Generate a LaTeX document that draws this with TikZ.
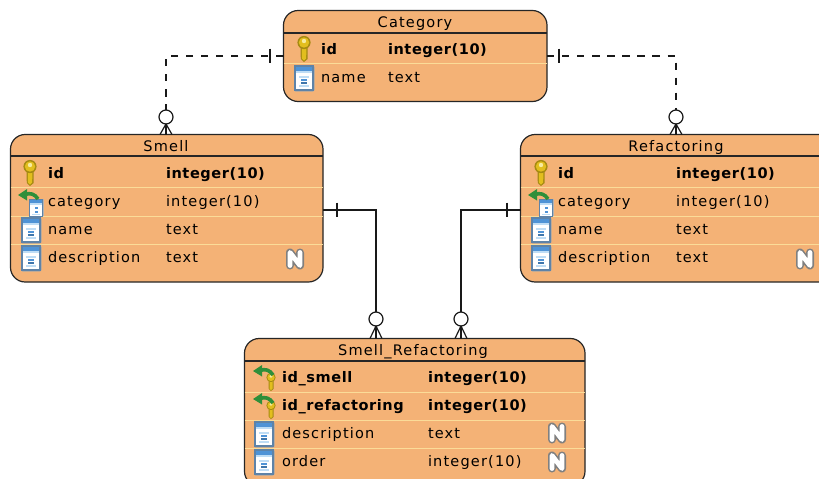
\documentclass[tikz,border=0pt]{standalone}
\usepackage{fontspec}
\setmainfont[LetterSpace=8,BoldFeatures={LetterSpace=4}]{DejaVu Sans}
\usetikzlibrary{fit}
\definecolor{tblfill}{HTML}{F4B276}
\definecolor{rowsep}{HTML}{FBDC98}
\definecolor{keygold}{HTML}{E2BE1E}
\definecolor{keydark}{HTML}{A58A12}
\definecolor{keylight}{HTML}{F7EBA0}
\definecolor{icoblue}{HTML}{4F93D6}
\definecolor{icodark}{HTML}{5E83A8}
\definecolor{icolight}{HTML}{BFDDF5}
\definecolor{fkgreen}{HTML}{2F8F3A}
\definecolor{ngray}{HTML}{808080}
\tikzset{
  tablebox/.style={draw=black!85,fill=tblfill,line width=.9pt,rounded corners=11pt,inner sep=0pt,outer sep=0pt},
  headline/.style={draw=black!85,line width=.8pt},
  rowline/.style={draw=rowsep,line width=.7pt},
  celltext/.style={anchor=base west,inner sep=0pt,outer sep=0pt,font=\fontsize{10.9pt}{13pt}\selectfont,text=black},
  celltitle/.style={anchor=base,inner sep=0pt,outer sep=0pt,font=\fontsize{10.9pt}{13pt}\selectfont,text=black},
  conn/.style={draw=black!90,line width=.9pt},
  connd/.style={conn,dash pattern=on 5.5pt off 5.8pt},
  ringend/.style={circle,draw=black!90,fill=white,line width=.9pt,minimum size=10.5pt,inner sep=0pt,outer sep=0pt},
}
\newcount\txtn
\newcommand{\tbl}[5]{%
  \coordinate (#1-a) at (#2,#3);\coordinate (#1-b) at (#4,#5);
  \node[tablebox,fit=(#1-a)(#1-b)] (#1) {};}
\newcommand{\hl}[3][headline]{\draw[#1] (#2.west |- 0,#3) -- (#2.east |- 0,#3);}
\newcommand{\cell}[4][]{\global\advance\txtn by 1 \node[celltext,#1] (txt\the\txtn) at (#2,#3+5) {#4};}
\newcommand{\titl}[3]{\global\advance\txtn by 1 \node[celltitle] (txt\the\txtn) at (#1,#2+5) {#3};}
% key: origin at the middle of the icon; #3 is the scale
\newcommand{\keyico}[3][1]{\begin{scope}[shift={(#2,#3)},scale=#1]
  \fill[keydark] (-3.6,-5) -- (-3.2,10) -- (0,13) -- (3.6,10) -- (3.8,-5) -- cycle;
  \fill[keygold] (-2.2,-5) -- (-2,9.5) -- (0,11.5) -- (2.2,9.5) -- (2.4,-5) -- cycle;
  \fill[keydark] (0,-6.5) circle[radius=6.6];
  \fill[keygold] (0,-6.5) circle[radius=5.2];
  \fill[keylight] (0,-8) circle[radius=2.2];
\end{scope}}
\newcommand{\colico}[2]{\begin{scope}[shift={(#1,#2)}]
  \fill[black!35,rounded corners=1pt] (-10,-12.5) rectangle (10.5,13.5);
  \fill[white] (-9,-12) rectangle (9,12);
  \fill[icoblue] (-9,-12) rectangle (9,-5);
  \fill[icolight] (-9,-7.5) rectangle (9,-5);
  \draw[icodark,line width=.9pt] (-9,-12) rectangle (9,12);
  \fill[icolight] (-5,-2.5) rectangle (5,-.5);
  \fill[icoblue] (-3,0.5) rectangle (3,2.5);
  \fill[icoblue!80!black] (-3,3.5) rectangle (3,5.5);
  \fill[icolight] (-5,6.5) rectangle (5,8.5);
\end{scope}}
\newcommand{\garrow}[2]{\begin{scope}[shift={(#1,#2)}]
  \fill[fkgreen] (0,0) -- (9,-6) -- (9,5.5) -- cycle;
  \draw[fkgreen,line width=2.7pt] (7,-.5) .. controls (12,-2.5) and (17,-1) .. (20,4);
\end{scope}}
\newcommand{\fkico}[2]{\begin{scope}[shift={(#1,#2)}]
  \fill[black!30] (-7.5,-8) rectangle (7.5,9);
  \fill[white] (-6.5,-7.5) rectangle (6.5,9);
  \fill[icoblue] (-6.5,-7.5) rectangle (6.5,-2.5);
  \fill[icolight] (-6.5,-4) rectangle (6.5,-2.5);
  \draw[icodark,line width=.5pt] (-6.5,-7.5) rectangle (6.5,9);
  \fill[icoblue] (-1.5,0) rectangle (1.5,2);
  \fill[icoblue] (-1.5,3.5) rectangle (1.5,5.5);
  \fill[icolight] (-4,6.5) rectangle (4,8);
\end{scope}\garrow{#1-18}{#2-12}}
\newcommand{\pkfk}[2]{\keyico[.7]{#1}{#2}\garrow{#1-18}{#2-11}}
\newcommand{\nico}[2]{\begin{scope}[shift={(#1,#2)}]
  \draw[ngray,line width=6pt,line join=round,line cap=round] (-5,6.5) -- (-5,-6.5) -- (5,6.5) -- (5,-6.5);
  \draw[white,line width=3.6pt,line join=round,line cap=round] (-5,6.5) -- (-5,-6.5) -- (5,6.5) -- (5,-6.5);
\end{scope}}
\begin{document}
\begin{tikzpicture}[x=.75pt,y=-.75pt]
\useasboundingbox (0,0) rectangle (819,479);
\clip (0,0) rectangle (819,479);
\fill[white] (0,0) rectangle (819,479);

% tables
\tbl{category}{283.5}{10.5}{547}{101.5}
\hl{category}{33}
\hl[rowline]{category}{63}
\titl{415}{22}{Category}
\keyico{304}{49}
\cell{321}{49}{\textbf{id}}
\cell{388}{49}{\textbf{integer(10)}}
\colico{304}{78}
\cell{321}{77}{name}
\cell{388}{77}{text}

\tbl{smell}{10.5}{134.5}{323}{282}
\hl{smell}{156}
\hl[rowline]{smell}{187}
\hl[rowline]{smell}{216}
\hl[rowline]{smell}{244}
\titl{166}{146}{Smell}
\keyico{30}{173}
\cell{48}{173}{\textbf{id}}
\cell{166}{173}{\textbf{integer(10)}}
\fkico{36}{207}
\cell{48}{201}{category}
\cell{166}{201}{integer(10)}
\colico{31}{230}
\cell{48}{229}{name}
\cell{166}{229}{text}
\colico{31}{258}
\cell{48}{257}{description}
\cell{166}{257}{text}
\nico{295}{259}

\tbl{refactoring}{520.5}{134.5}{833}{282}
\hl{refactoring}{156}
\hl[rowline]{refactoring}{187}
\hl[rowline]{refactoring}{216}
\hl[rowline]{refactoring}{244}
\titl{676}{146}{Refactoring}
\keyico{541}{173}
\cell{558}{173}{\textbf{id}}
\cell{676}{173}{\textbf{integer(10)}}
\fkico{546}{207}
\cell{558}{201}{category}
\cell{676}{201}{integer(10)}
\colico{541}{230}
\cell{558}{229}{name}
\cell{676}{229}{text}
\colico{541}{258}
\cell{558}{257}{description}
\cell{676}{257}{text}
\nico{805}{259}

\tbl{smellref}{244.5}{338.5}{585}{486}
\hl{smellref}{361}
\hl[rowline]{smellref}{392}
\hl[rowline]{smellref}{420}
\hl[rowline]{smellref}{448}
\titl{413}{350}{Smell\_Refactoring}
\pkfk{271}{382}
\cell{282}{377}{\textbf{id\_smell}}
\cell{428}{377}{\textbf{integer(10)}}
\pkfk{271}{410}
\cell{282}{405}{\textbf{id\_refactoring}}
\cell{428}{405}{\textbf{integer(10)}}
\colico{264}{434}
\cell{282}{433}{description}
\cell{428}{433}{text}
\colico{264}{462}
\cell{282}{461}{order}
\cell{428}{461}{integer(10)}
\nico{557}{433}
\nico{557}{462}

% connector ends
\node[ringend] (r1) at (166,117) {};
\node[ringend] (r2) at (676,117) {};
\node[ringend] (r3) at (376,319) {};
\node[ringend] (r4) at (461,319) {};
\coordinate (p1) at (283.5,56);
\coordinate (p2) at (547,56);
\coordinate (p3) at (323,210);
\coordinate (p4) at (520.5,210);

% connectors
\draw[connd] (p1) -- (p1 -| r1.north) -- (r1.north);
\draw[connd] (p2) -- (p2 -| r2.north) -- (r2.north);
\draw[conn] (p3) -| (r3.north);
\draw[conn] (p4) -| (r4.north);

% one-bars
\coordinate (b1) at (270,56); \draw[conn] ([yshift=5.5pt]b1) -- ([yshift=-5.5pt]b1);
\coordinate (b2) at (559,56); \draw[conn] ([yshift=5.5pt]b2) -- ([yshift=-5.5pt]b2);
\coordinate (b3) at (337,210); \draw[conn] ([yshift=5.5pt]b3) -- ([yshift=-5.5pt]b3);
\coordinate (b4) at (507,210); \draw[conn] ([yshift=5.5pt]b4) -- ([yshift=-5.5pt]b4);

% crow's feet
\foreach \r/\t in {r1/smell,r2/refactoring,r3/smellref,r4/smellref}{
  \draw[conn] (\r.south) -- (\r.south |- \t.north);
  \draw[conn] (\r.south) -- ([xshift=-4.5pt]\r.south |- \t.north);
  \draw[conn] (\r.south) -- ([xshift=4.5pt]\r.south |- \t.north);
}
\end{tikzpicture}
\end{document}
